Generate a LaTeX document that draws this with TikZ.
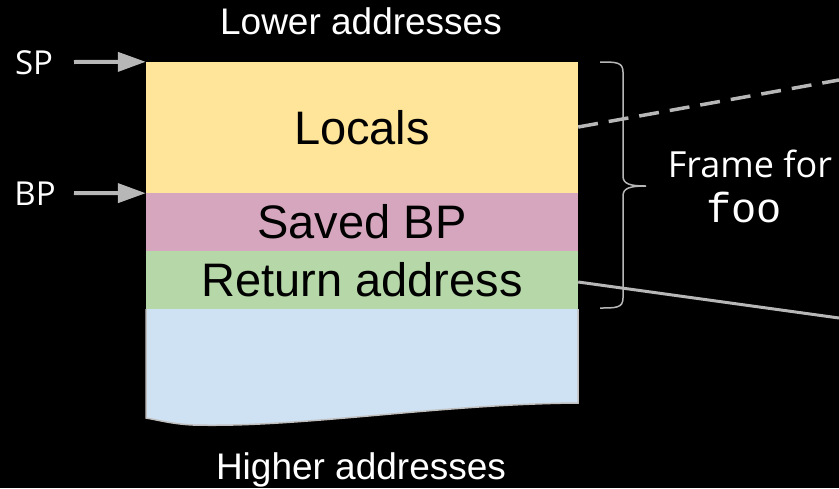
\documentclass[tikz,border=0pt]{standalone}
\usepackage{fontspec}
\setmainfont{Liberation Sans}
\newfontfamily\opensans{Open Sans}
\newfontfamily\monofont{Liberation Mono}
\usetikzlibrary{arrows.meta}
\definecolor{yel}{HTML}{FFE599}
\definecolor{pnk}{HTML}{D5A6BD}
\definecolor{grn}{HTML}{B6D7A8}
\definecolor{blu}{HTML}{CFE2F3}
\definecolor{lgray}{HTML}{B7B7B7}
\definecolor{bgray}{HTML}{C0C0C0}
\begin{document}
\begin{tikzpicture}[x=1pt,y=-1pt,
  stackbox/.style={draw=none,inner sep=0pt,minimum width=432pt,text=black,
    font=\fontsize{47}{50}\selectfont},
  ptrarrow/.style={draw=lgray,line width=4pt,-{Triangle[length=28pt,width=19pt]}},
  lbl/.style={text=white,inner sep=0pt,anchor=base},
  connline/.style={draw=lgray,line width=3.5pt},
  bracestyle/.style={draw=lgray,line width=1.5pt}]
\fill[black] (0,0) rectangle (839,488);
\useasboundingbox (0,0) rectangle (839,488);
% stack boxes
\node[stackbox,fill=yel,minimum height=131pt] (locals) at (362,127.5) {Locals};
\node[stackbox,fill=pnk,minimum height=58pt] (saved) at (362,222) {Saved BP};
\node[stackbox,fill=grn,minimum height=58pt] (ret) at (362,280) {Return address};
% lower region with wavy bottom
\fill[blu] (146,309) -- (578,309) -- (578,403)
  .. controls (440,404) and (300,428) .. (193,425)
  .. controls (172,424) and (158,420) .. (146,418) -- cycle;
\draw[draw=bgray,line width=1.5pt] (146,309) -- (146,418)
  .. controls (158,420) and (172,424) .. (193,425)
  .. controls (300,428) and (440,404) .. (578,403) -- (578,309);
% labels
\node[lbl,font=\fontsize{37}{40}\selectfont] (lower) at (361,34) {Lower addresses};
\node[lbl,font=\fontsize{37}{40}\selectfont] (higher) at (361,479) {Higher addresses};
\node[lbl,font=\opensans\fontsize{33}{36}\selectfont] (sp) at (34,74) {SP};
\node[lbl,font=\opensans\fontsize{33}{36}\selectfont] (bp) at (35,205) {BP};
\node[lbl,font=\opensans\fontsize{36}{40}\selectfont] (frame) at (750,177) {Frame for};
\node[lbl,font=\monofont\fontsize{42}{44}\selectfont] (foo) at (744,222) {foo};
% pointer arrows
\coordinate (spstart) at (74,62);
\coordinate (bpstart) at (74,193);
\draw[ptrarrow] (spstart) -- (locals.north west);
\draw[ptrarrow] (bpstart) -- (locals.south west);
% brace
\draw[bracestyle] (600,62) .. controls (616,62) and (623,62) .. (623,72) -- (623,176)
  .. controls (623,184) and (630,186) .. (646,186)
  .. controls (630,186) and (623,188) .. (623,196) -- (623,298)
  .. controls (623,308) and (616,308) .. (600,308);
% connector lines
\coordinate (dashend) at (839,80);
\coordinate (solidend) at (839,318);
\draw[connline,dash pattern=on 20pt off 11pt] ([yshift=0.5pt]locals.east) -- (dashend);
\draw[connline,line width=3pt] ([yshift=-2pt]ret.east) -- (solidend);
\end{tikzpicture}
\end{document}
